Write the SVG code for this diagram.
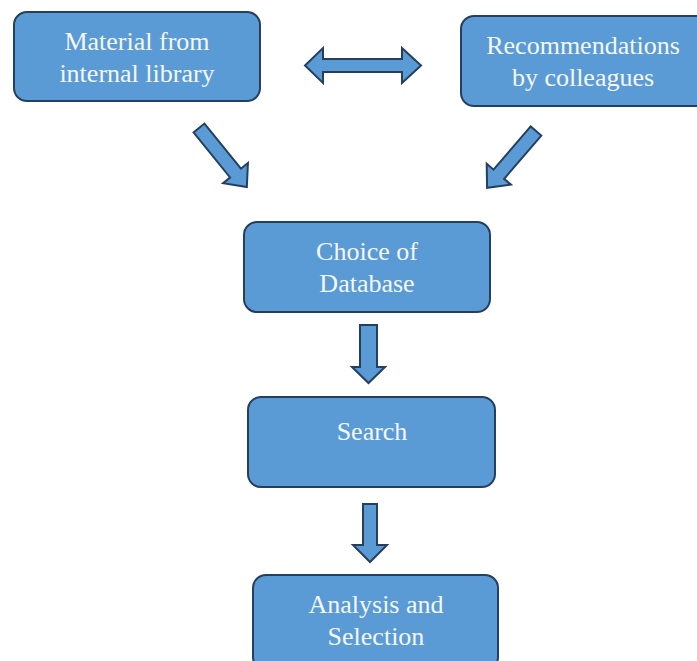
<svg xmlns="http://www.w3.org/2000/svg" width="697" height="661" viewBox="0 0 697 661">
<style>
.box{fill:#5b9bd5;stroke:#253f5e;stroke-width:2}
.arr{fill:#5b9bd5;stroke:#253f5e;stroke-width:2;stroke-linejoin:miter}
.t{font-family:"Liberation Serif","Times New Roman",serif;font-size:26px;fill:#f4f7fb;text-anchor:middle}
</style>
<rect width="697" height="661" fill="#ffffff"/>
<g id="connectors">
<path class="arr" d="M305,65.5 L323,48 L323,59 L402,59 L402,48 L421,65.5 L402,83 L402,72 L323,72 L323,83 Z"/>
<g transform="translate(199,128) rotate(51)">
<path class="arr" d="M0,-7 L58,-7 L58,-16 L76,0 L58,16 L58,7 L0,7 Z"/>
</g>
<g transform="translate(536,131) rotate(130.7)">
<path class="arr" d="M0,-7 L57,-7 L57,-16 L75,0 L57,16 L57,7 L0,7 Z"/>
</g>
<path class="arr" d="M360,325 L377,325 L377,367 L385,367 L368.5,383 L352,367 L360,367 Z"/>
<path class="arr" d="M363,504 L377,504 L377,545 L387,545 L370,562 L353,545 L363,545 Z"/>
</g>
<g id="n1">
<rect class="box" x="14" y="12" width="246" height="89" rx="13"/>
<text class="t" x="137" y="50">Material from</text>
<text class="t" x="137" y="82">internal library</text>
</g>
<g id="n2">
<rect class="box" x="461" y="16" width="250" height="90" rx="13"/>
<text class="t" x="583" y="54">Recommendations</text>
<text class="t" x="583" y="86">by colleagues</text>
</g>
<g id="n3">
<rect class="box" x="244" y="222" width="246" height="90" rx="13"/>
<text class="t" x="367" y="260">Choice of</text>
<text class="t" x="367" y="292">Database</text>
</g>
<g id="n4">
<rect class="box" x="248" y="397" width="247" height="90" rx="13"/>
<text class="t" x="372" y="440">Search</text>
</g>
<g id="n5">
<rect class="box" x="253" y="575" width="245" height="95" rx="13"/>
<text class="t" x="376" y="613">Analysis and</text>
<text class="t" x="376" y="645">Selection</text>
</g>
</svg>
